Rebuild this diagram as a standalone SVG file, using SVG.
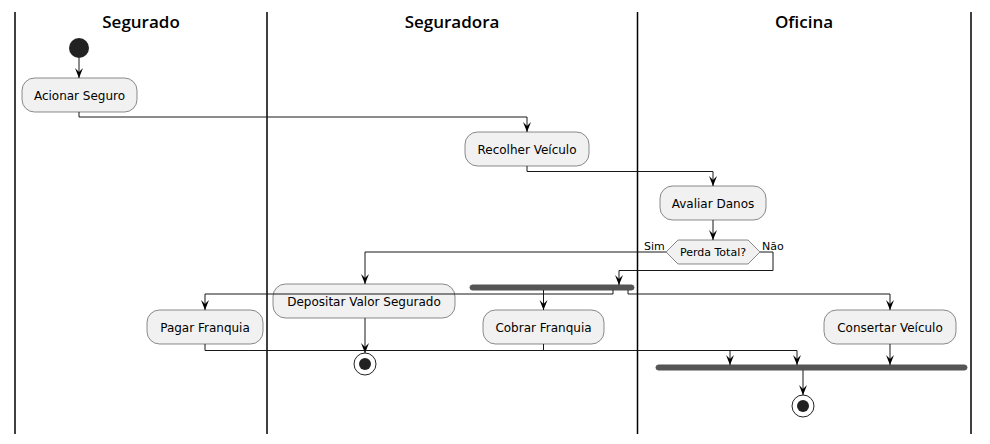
<svg xmlns="http://www.w3.org/2000/svg" width="990" height="444" viewBox="0 0 990 444">
<style>
.lane{stroke:#000;stroke-width:1.5}
.title{font-family:"Open Sans","DejaVu Sans",sans-serif;font-weight:600;font-size:17px;fill:#000;text-anchor:middle}
.act rect{fill:#F1F1F1;stroke:#181818;stroke-width:0.5}
.act text{font-family:"DejaVu Sans",sans-serif;font-size:12px;fill:#000;text-anchor:middle}
.lbl{font-family:"DejaVu Sans",sans-serif;font-size:11px;fill:#000}
.bar{fill:#555555;stroke:#555555;stroke-width:1}
.conn path{fill:none;stroke:#181818;stroke-width:1}
.conn polygon{fill:#181818;stroke:#181818;stroke-width:1}
</style>
<defs>
<polygon id="ah" points="-4,-10 0,0 4,-10 0,-6"/>
</defs>
<rect width="990" height="444" fill="#fff"/>
<g id="lanes">
<line class="lane" x1="15" y1="12" x2="15" y2="434"/>
<line class="lane" x1="267" y1="12" x2="267" y2="434"/>
<line class="lane" x1="637.5" y1="12" x2="637.5" y2="434"/>
<line class="lane" x1="971" y1="12" x2="971" y2="434"/>
<text class="title" x="141" y="28">Segurado</text>
<text class="title" x="452" y="28">Seguradora</text>
<text class="title" x="804" y="28">Oficina</text>
</g>
<g id="start"><circle cx="79" cy="48" r="10" fill="#222"/></g>
<g id="acionar" class="act"><rect x="22" y="78" width="115" height="34" rx="12.5"/><text x="79.5" y="100">Acionar Seguro</text></g>
<g id="recolher" class="act"><rect x="465" y="132" width="124" height="34" rx="12.5"/><text x="527" y="154">Recolher Veículo</text></g>
<g id="avaliar" class="act"><rect x="660" y="186" width="106" height="34" rx="12.5"/><text x="713" y="208">Avaliar Danos</text></g>
<g id="decisao">
<polygon points="666,252 678,240 748,240 760,252 748,264 678,264" fill="#F1F1F1" stroke="#181818" stroke-width="0.5"/>
<text class="lbl" x="713" y="256" text-anchor="middle">Perda Total?</text>
<text class="lbl" x="644" y="250">Sim</text>
<text class="lbl" x="762" y="250">Não</text>
</g>
<g id="fork"><rect class="bar" x="470" y="285" width="164" height="5" rx="2.5"/></g>
<g id="depositar" class="act"><rect x="273" y="284" width="182" height="34" rx="12.5"/><text x="364" y="306">Depositar Valor Segurado</text></g>
<g id="pagar" class="act"><rect x="147" y="310" width="116" height="34" rx="12.5"/><text x="205" y="332">Pagar Franquia</text></g>
<g id="cobrar" class="act"><rect x="483" y="310" width="121" height="34" rx="12.5"/><text x="543.5" y="332">Cobrar Franquia</text></g>
<g id="consertar" class="act"><rect x="824" y="310" width="132" height="34" rx="12.5"/><text x="890" y="332">Consertar Veículo</text></g>
<g id="end1"><circle cx="365" cy="364" r="11" fill="none" stroke="#222" stroke-width="1"/><circle cx="365" cy="364" r="6" fill="#222"/></g>
<g id="join"><rect class="bar" x="656" y="365" width="311" height="5" rx="2.5"/></g>
<g id="end2"><circle cx="803" cy="406" r="11" fill="none" stroke="#222" stroke-width="1"/><circle cx="803" cy="406" r="6" fill="#222"/></g>
<g id="connectors" class="conn">
<path d="M79,58 V78"/><use href="#ah" x="79" y="78"/>
<path d="M79,112 V117 H527 V132"/><use href="#ah" x="527" y="132"/>
<path d="M527,166 V171.5 H713 V186"/><use href="#ah" x="713" y="186"/>
<path d="M713,220 V240"/><use href="#ah" x="713" y="240"/>
<path d="M666,252 H365 V284"/><use href="#ah" x="365" y="284"/>
<path d="M760,252 H773 V270.5 H619 V285"/><use href="#ah" x="619" y="285"/>
<path d="M613,290 V294 H205 V310"/><use href="#ah" x="205" y="310"/>
<path d="M543.5,290 V310"/><use href="#ah" x="543.5" y="310"/>
<path d="M628,290 V294 H890 V310"/><use href="#ah" x="890" y="310"/>
<path d="M365,318 V353"/><use href="#ah" x="365" y="353"/>
<path d="M205,344 V350.5 H730 V365"/><use href="#ah" x="730" y="365"/>
<path d="M543.5,344 V350.5 H797 V365"/><use href="#ah" x="797" y="365"/>
<path d="M890,344 V365"/><use href="#ah" x="890" y="365"/>
<path d="M803,370 V395"/><use href="#ah" x="803" y="395"/>
</g>
</svg>
